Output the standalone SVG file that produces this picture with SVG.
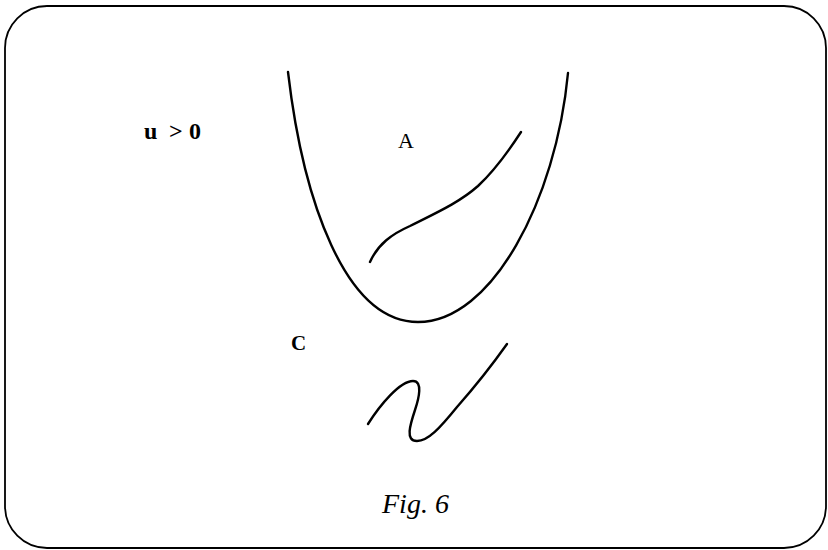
<svg xmlns="http://www.w3.org/2000/svg" width="828" height="550" viewBox="0 0 828 550">
<style>
.ln{fill:none;stroke:#000;stroke-width:2.4;stroke-linecap:round;stroke-linejoin:round}
.t{font-family:"Liberation Serif","DejaVu Serif",serif;fill:#000}
</style>
<rect x="0" y="0" width="828" height="550" fill="#fff"/>
<rect x="5" y="6" width="821" height="542" rx="42" ry="42" fill="none" stroke="#000" stroke-width="1.8"/>
<g id="parabola"><path class="ln" d="M288,72 C303,200 345,322 418,322 C492,322 556,200 568,73"/></g>
<g id="curveA"><path class="ln" d="M370,262 C378,244 392,234 410,226 C438,212 460,202 478,186 C493,172 508,152 521,132"/></g>
<g id="curveC"><path class="ln" d="M368,424 C380,405 400,381 413,381 C423,381 419,398 415,410 C410,425 405,441 417,441 C428,441 440,428 457,407 C472,390 490,368 507,344"/></g>
<text class="t" font-size="24" font-weight="bold"><tspan x="144" y="139">u</tspan><tspan x="169" y="139">&gt;</tspan><tspan x="189" y="139">0</tspan></text>
<text class="t" x="398" y="148" font-size="22">A</text>
<text class="t" x="291" y="350" font-size="21" font-weight="bold">C</text>
<text class="t" x="382" y="513" font-size="28" font-style="italic">Fig. 6</text>
</svg>
